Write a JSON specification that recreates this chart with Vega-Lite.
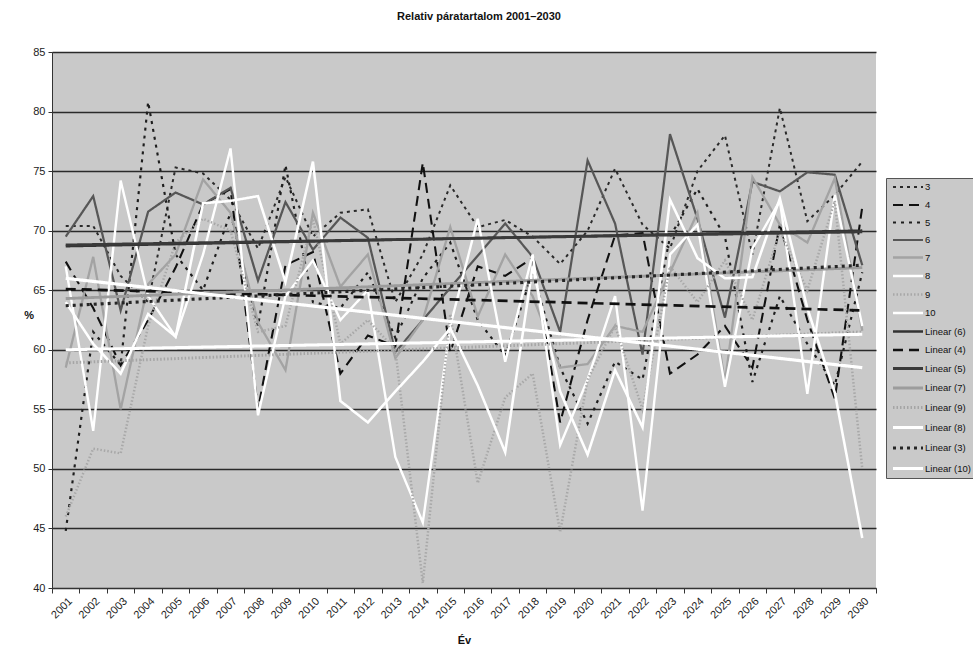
{
  "$schema": "https://vega.github.io/schema/vega-lite/v6.json",
  "autosize": {"type": "none"},
  "padding": {"left": 52, "top": 52, "right": 97, "bottom": 68},
  "width": 824,
  "height": 536,
  "background": "#ffffff",
  "config": {
    "font": "Liberation Sans, Arial",
    "view": {"fill": "#c9c9c9", "stroke": null}
  },
  "title": {
    "text": "Relativ páratartalom 2001–2030",
    "fontSize": 11,
    "fontWeight": "bold",
    "color": "#111",
    "anchor": "middle",
    "dx": 15,
    "offset": 24
  },
  "data": {
    "values": [
      {"series": "3", "year": 2001, "value": 70.4}, {"series": "3", "year": 2002, "value": 70.4}, {"series": "3", "year": 2003, "value": 66.2}, {"series": "3", "year": 2004, "value": 64.0}, {"series": "3", "year": 2005, "value": 75.3}, {"series": "3", "year": 2006, "value": 74.8}, {"series": "3", "year": 2007, "value": 72.6}, {"series": "3", "year": 2008, "value": 68.5}, {"series": "3", "year": 2009, "value": 74.5}, {"series": "3", "year": 2010, "value": 69.5}, {"series": "3", "year": 2011, "value": 71.5}, {"series": "3", "year": 2012, "value": 71.8}, {"series": "3", "year": 2013, "value": 64.0}, {"series": "3", "year": 2014, "value": 68.0}, {"series": "3", "year": 2015, "value": 73.8}, {"series": "3", "year": 2016, "value": 70.3}, {"series": "3", "year": 2017, "value": 70.9}, {"series": "3", "year": 2018, "value": 69.5}, {"series": "3", "year": 2019, "value": 67.2}, {"series": "3", "year": 2020, "value": 70.0}, {"series": "3", "year": 2021, "value": 75.2}, {"series": "3", "year": 2022, "value": 70.5}, {"series": "3", "year": 2023, "value": 68.5}, {"series": "3", "year": 2024, "value": 75.0}, {"series": "3", "year": 2025, "value": 78.0}, {"series": "3", "year": 2026, "value": 68.0}, {"series": "3", "year": 2027, "value": 80.3}, {"series": "3", "year": 2028, "value": 70.8}, {"series": "3", "year": 2029, "value": 73.0}, {"series": "3", "year": 2030, "value": 75.8},

      {"series": "4", "year": 2001, "value": 67.4}, {"series": "4", "year": 2002, "value": 63.5}, {"series": "4", "year": 2003, "value": 58.7}, {"series": "4", "year": 2004, "value": 62.5}, {"series": "4", "year": 2005, "value": 66.9}, {"series": "4", "year": 2006, "value": 72.2}, {"series": "4", "year": 2007, "value": 73.5}, {"series": "4", "year": 2008, "value": 55.0}, {"series": "4", "year": 2009, "value": 67.1}, {"series": "4", "year": 2010, "value": 68.2}, {"series": "4", "year": 2011, "value": 58.0}, {"series": "4", "year": 2012, "value": 61.2}, {"series": "4", "year": 2013, "value": 60.3}, {"series": "4", "year": 2014, "value": 75.7}, {"series": "4", "year": 2015, "value": 59.8}, {"series": "4", "year": 2016, "value": 67.0}, {"series": "4", "year": 2017, "value": 66.2}, {"series": "4", "year": 2018, "value": 67.7}, {"series": "4", "year": 2019, "value": 53.9}, {"series": "4", "year": 2020, "value": 62.5}, {"series": "4", "year": 2021, "value": 69.6}, {"series": "4", "year": 2022, "value": 69.8}, {"series": "4", "year": 2023, "value": 58.0}, {"series": "4", "year": 2024, "value": 59.6}, {"series": "4", "year": 2025, "value": 62.0}, {"series": "4", "year": 2026, "value": 58.5}, {"series": "4", "year": 2027, "value": 70.5}, {"series": "4", "year": 2028, "value": 62.5}, {"series": "4", "year": 2029, "value": 55.9}, {"series": "4", "year": 2030, "value": 72.0},

      {"series": "5", "year": 2001, "value": 44.8}, {"series": "5", "year": 2002, "value": 61.5}, {"series": "5", "year": 2003, "value": 58.7}, {"series": "5", "year": 2004, "value": 80.8}, {"series": "5", "year": 2005, "value": 68.0}, {"series": "5", "year": 2006, "value": 65.0}, {"series": "5", "year": 2007, "value": 71.5}, {"series": "5", "year": 2008, "value": 62.0}, {"series": "5", "year": 2009, "value": 75.5}, {"series": "5", "year": 2010, "value": 64.0}, {"series": "5", "year": 2011, "value": 63.5}, {"series": "5", "year": 2012, "value": 66.5}, {"series": "5", "year": 2013, "value": 61.0}, {"series": "5", "year": 2014, "value": 66.0}, {"series": "5", "year": 2015, "value": 69.0}, {"series": "5", "year": 2016, "value": 62.5}, {"series": "5", "year": 2017, "value": 59.5}, {"series": "5", "year": 2018, "value": 66.5}, {"series": "5", "year": 2019, "value": 58.5}, {"series": "5", "year": 2020, "value": 53.8}, {"series": "5", "year": 2021, "value": 59.0}, {"series": "5", "year": 2022, "value": 57.5}, {"series": "5", "year": 2023, "value": 69.5}, {"series": "5", "year": 2024, "value": 73.5}, {"series": "5", "year": 2025, "value": 69.5}, {"series": "5", "year": 2026, "value": 57.3}, {"series": "5", "year": 2027, "value": 64.5}, {"series": "5", "year": 2028, "value": 60.5}, {"series": "5", "year": 2029, "value": 57.0}, {"series": "5", "year": 2030, "value": 66.5},

      {"series": "6", "year": 2001, "value": 69.5}, {"series": "6", "year": 2002, "value": 72.9}, {"series": "6", "year": 2003, "value": 63.3}, {"series": "6", "year": 2004, "value": 71.6}, {"series": "6", "year": 2005, "value": 73.2}, {"series": "6", "year": 2006, "value": 72.2}, {"series": "6", "year": 2007, "value": 73.6}, {"series": "6", "year": 2008, "value": 65.8}, {"series": "6", "year": 2009, "value": 72.4}, {"series": "6", "year": 2010, "value": 68.4}, {"series": "6", "year": 2011, "value": 71.1}, {"series": "6", "year": 2012, "value": 69.4}, {"series": "6", "year": 2013, "value": 59.8}, {"series": "6", "year": 2014, "value": 62.5}, {"series": "6", "year": 2015, "value": 65.2}, {"series": "6", "year": 2016, "value": 67.9}, {"series": "6", "year": 2017, "value": 70.6}, {"series": "6", "year": 2018, "value": 67.8}, {"series": "6", "year": 2019, "value": 61.5}, {"series": "6", "year": 2020, "value": 75.9}, {"series": "6", "year": 2021, "value": 70.6}, {"series": "6", "year": 2022, "value": 59.6}, {"series": "6", "year": 2023, "value": 78.1}, {"series": "6", "year": 2024, "value": 71.0}, {"series": "6", "year": 2025, "value": 62.7}, {"series": "6", "year": 2026, "value": 74.1}, {"series": "6", "year": 2027, "value": 73.3}, {"series": "6", "year": 2028, "value": 74.9}, {"series": "6", "year": 2029, "value": 74.7}, {"series": "6", "year": 2030, "value": 67.1},

      {"series": "7", "year": 2001, "value": 58.5}, {"series": "7", "year": 2002, "value": 67.8}, {"series": "7", "year": 2003, "value": 55.0}, {"series": "7", "year": 2004, "value": 65.5}, {"series": "7", "year": 2005, "value": 68.0}, {"series": "7", "year": 2006, "value": 74.3}, {"series": "7", "year": 2007, "value": 71.5}, {"series": "7", "year": 2008, "value": 62.3}, {"series": "7", "year": 2009, "value": 58.3}, {"series": "7", "year": 2010, "value": 71.5}, {"series": "7", "year": 2011, "value": 65.3}, {"series": "7", "year": 2012, "value": 68.0}, {"series": "7", "year": 2013, "value": 59.3}, {"series": "7", "year": 2014, "value": 62.5}, {"series": "7", "year": 2015, "value": 70.3}, {"series": "7", "year": 2016, "value": 62.8}, {"series": "7", "year": 2017, "value": 68.0}, {"series": "7", "year": 2018, "value": 64.5}, {"series": "7", "year": 2019, "value": 58.5}, {"series": "7", "year": 2020, "value": 58.8}, {"series": "7", "year": 2021, "value": 62.0}, {"series": "7", "year": 2022, "value": 61.5}, {"series": "7", "year": 2023, "value": 66.5}, {"series": "7", "year": 2024, "value": 71.5}, {"series": "7", "year": 2025, "value": 57.3}, {"series": "7", "year": 2026, "value": 74.5}, {"series": "7", "year": 2027, "value": 70.5}, {"series": "7", "year": 2028, "value": 69.0}, {"series": "7", "year": 2029, "value": 74.4}, {"series": "7", "year": 2030, "value": 61.6},

      {"series": "8", "year": 2001, "value": 67.0}, {"series": "8", "year": 2002, "value": 53.2}, {"series": "8", "year": 2003, "value": 74.2}, {"series": "8", "year": 2004, "value": 64.5}, {"series": "8", "year": 2005, "value": 61.1}, {"series": "8", "year": 2006, "value": 68.0}, {"series": "8", "year": 2007, "value": 76.9}, {"series": "8", "year": 2008, "value": 54.5}, {"series": "8", "year": 2009, "value": 64.5}, {"series": "8", "year": 2010, "value": 67.5}, {"series": "8", "year": 2011, "value": 62.5}, {"series": "8", "year": 2012, "value": 65.0}, {"series": "8", "year": 2013, "value": 51.0}, {"series": "8", "year": 2014, "value": 45.5}, {"series": "8", "year": 2015, "value": 62.0}, {"series": "8", "year": 2016, "value": 71.0}, {"series": "8", "year": 2017, "value": 59.0}, {"series": "8", "year": 2018, "value": 68.0}, {"series": "8", "year": 2019, "value": 52.0}, {"series": "8", "year": 2020, "value": 57.5}, {"series": "8", "year": 2021, "value": 64.5}, {"series": "8", "year": 2022, "value": 46.5}, {"series": "8", "year": 2023, "value": 68.0}, {"series": "8", "year": 2024, "value": 70.5}, {"series": "8", "year": 2025, "value": 56.9}, {"series": "8", "year": 2026, "value": 68.5}, {"series": "8", "year": 2027, "value": 72.5}, {"series": "8", "year": 2028, "value": 56.3}, {"series": "8", "year": 2029, "value": 73.0}, {"series": "8", "year": 2030, "value": 62.0},

      {"series": "9", "year": 2001, "value": 46.0}, {"series": "9", "year": 2002, "value": 51.7}, {"series": "9", "year": 2003, "value": 51.3}, {"series": "9", "year": 2004, "value": 62.0}, {"series": "9", "year": 2005, "value": 69.0}, {"series": "9", "year": 2006, "value": 71.0}, {"series": "9", "year": 2007, "value": 70.0}, {"series": "9", "year": 2008, "value": 61.5}, {"series": "9", "year": 2009, "value": 62.0}, {"series": "9", "year": 2010, "value": 71.0}, {"series": "9", "year": 2011, "value": 60.5}, {"series": "9", "year": 2012, "value": 62.5}, {"series": "9", "year": 2013, "value": 60.0}, {"series": "9", "year": 2014, "value": 40.4}, {"series": "9", "year": 2015, "value": 63.0}, {"series": "9", "year": 2016, "value": 48.8}, {"series": "9", "year": 2017, "value": 56.0}, {"series": "9", "year": 2018, "value": 58.0}, {"series": "9", "year": 2019, "value": 44.7}, {"series": "9", "year": 2020, "value": 57.5}, {"series": "9", "year": 2021, "value": 62.0}, {"series": "9", "year": 2022, "value": 55.0}, {"series": "9", "year": 2023, "value": 67.0}, {"series": "9", "year": 2024, "value": 64.0}, {"series": "9", "year": 2025, "value": 67.5}, {"series": "9", "year": 2026, "value": 62.5}, {"series": "9", "year": 2027, "value": 70.0}, {"series": "9", "year": 2028, "value": 65.0}, {"series": "9", "year": 2029, "value": 72.5}, {"series": "9", "year": 2030, "value": 50.0},

      {"series": "10", "year": 2001, "value": 64.0}, {"series": "10", "year": 2002, "value": 60.5}, {"series": "10", "year": 2003, "value": 58.0}, {"series": "10", "year": 2004, "value": 63.0}, {"series": "10", "year": 2005, "value": 61.1}, {"series": "10", "year": 2006, "value": 72.3}, {"series": "10", "year": 2007, "value": 72.5}, {"series": "10", "year": 2008, "value": 72.9}, {"series": "10", "year": 2009, "value": 65.7}, {"series": "10", "year": 2010, "value": 75.8}, {"series": "10", "year": 2011, "value": 55.7}, {"series": "10", "year": 2012, "value": 53.9}, {"series": "10", "year": 2013, "value": 56.5}, {"series": "10", "year": 2014, "value": 59.0}, {"series": "10", "year": 2015, "value": 61.8}, {"series": "10", "year": 2016, "value": 57.0}, {"series": "10", "year": 2017, "value": 51.4}, {"series": "10", "year": 2018, "value": 67.0}, {"series": "10", "year": 2019, "value": 56.5}, {"series": "10", "year": 2020, "value": 51.2}, {"series": "10", "year": 2021, "value": 58.3}, {"series": "10", "year": 2022, "value": 53.5}, {"series": "10", "year": 2023, "value": 72.6}, {"series": "10", "year": 2024, "value": 67.7}, {"series": "10", "year": 2025, "value": 66.0}, {"series": "10", "year": 2026, "value": 66.1}, {"series": "10", "year": 2027, "value": 72.7}, {"series": "10", "year": 2028, "value": 63.5}, {"series": "10", "year": 2029, "value": 56.4}, {"series": "10", "year": 2030, "value": 44.2},

      {"series": "Linear (6)", "year": 2001, "value": 68.7}, {"series": "Linear (6)", "year": 2030, "value": 70.0},
      {"series": "Linear (4)", "year": 2001, "value": 65.1}, {"series": "Linear (4)", "year": 2030, "value": 63.3},
      {"series": "Linear (5)", "year": 2001, "value": 68.8}, {"series": "Linear (5)", "year": 2030, "value": 69.9},
      {"series": "Linear (7)", "year": 2001, "value": 64.3}, {"series": "Linear (7)", "year": 2030, "value": 66.9},
      {"series": "Linear (9)", "year": 2001, "value": 58.9}, {"series": "Linear (9)", "year": 2030, "value": 61.5},
      {"series": "Linear (8)", "year": 2001, "value": 60.0}, {"series": "Linear (8)", "year": 2030, "value": 61.3},
      {"series": "Linear (3)", "year": 2001, "value": 63.7}, {"series": "Linear (3)", "year": 2030, "value": 67.1},
      {"series": "Linear (10)", "year": 2001, "value": 66.0}, {"series": "Linear (10)", "year": 2030, "value": 58.5}
    ]
  },
  "mark": {"type": "line", "clip": true},
  "encoding": {
    "x": {
      "field": "year",
      "type": "quantitative",
      "scale": {"domain": [2000.5, 2030.5], "nice": false, "zero": false},
      "axis": {
        "title": "Év",
        "titleFontSize": 11,
        "titleFontWeight": "bold",
        "titleColor": "#111",
        "titlePadding": 14,
        "values": [2000.5, 2001.5, 2002.5, 2003.5, 2004.5, 2005.5, 2006.5, 2007.5, 2008.5, 2009.5, 2010.5, 2011.5, 2012.5, 2013.5, 2014.5, 2015.5, 2016.5, 2017.5, 2018.5, 2019.5, 2020.5, 2021.5, 2022.5, 2023.5, 2024.5, 2025.5, 2026.5, 2027.5, 2028.5, 2029.5, 2030.5],
        "labelExpr": "datum.value < 2030 ? format(datum.value + 0.5, 'd') : ''",
        "labelOffset": 14,
        "labelAngle": -45,
        "labelFontSize": 11,
        "labelColor": "#222",
        "labelPadding": 2,
        "grid": false,
        "domainColor": "#333",
        "tickColor": "#333",
        "tickSize": 5,
        "labelFlush": false,
        "labelOverlap": false,
        "labelBound": false
      }
    },
    "y": {
      "field": "value",
      "type": "quantitative",
      "scale": {"domain": [40, 85], "nice": false, "zero": false},
      "axis": {
        "title": "%",
        "titleAngle": 0,
        "titleFontSize": 11,
        "titleFontWeight": "bold",
        "titleColor": "#111",
        "titlePadding": 4,
        "values": [40, 45, 50, 55, 60, 65, 70, 75, 80, 85],
        "labelFontSize": 11,
        "labelColor": "#222",
        "labelPadding": 3,
        "grid": true,
        "gridColor": "#2a2a2a",
        "gridWidth": 1.3,
        "domainColor": "#333",
        "tickColor": "#333",
        "tickSize": 4
      }
    },
    "color": {
      "field": "series",
      "type": "nominal",
      "scale": {
        "domain": ["3", "4", "5", "6", "7", "8", "9", "10", "Linear (6)", "Linear (4)", "Linear (5)", "Linear (7)", "Linear (9)", "Linear (8)", "Linear (3)", "Linear (10)"],
        "range": ["#2a2a2a", "#111111", "#1e1e1e", "#575757", "#a3a3a3", "#ffffff", "#a8a8a8", "#ffffff", "#333333", "#111111", "#3a3a3a", "#9c9c9c", "#a5a5a5", "#ffffff", "#262626", "#ffffff"]
      },
      "legend": {
        "title": null,
        "orient": "none",
        "legendX": 834,
        "legendY": 126,
        "fillColor": "#c9c9c9",
        "strokeColor": "#555555",
        "padding": 3,
        "labelFontSize": 9.5,
        "labelColor": "#111",
        "symbolType": "M-3,0H3",
        "symbolSize": 100,
        "symbolOffset": 12,
        "rowPadding": 6.5,
        "labelOffset": 10
      }
    },
    "strokeDash": {
      "field": "series",
      "type": "nominal",
      "scale": {
        "domain": ["3", "4", "5", "6", "7", "8", "9", "10", "Linear (6)", "Linear (4)", "Linear (5)", "Linear (7)", "Linear (9)", "Linear (8)", "Linear (3)", "Linear (10)"],
        "range": [[3, 4], [10, 6], [3, 5], [1, 0], [1, 0], [1, 0], [1.5, 2], [1, 0], [1, 0], [10, 6], [1, 0], [1, 0], [1.5, 2], [1, 0], [3, 4], [1, 0]]
      },
      "legend": null
    },
    "strokeWidth": {
      "field": "series",
      "type": "nominal",
      "scale": {
        "domain": ["3", "4", "5", "6", "7", "8", "9", "10", "Linear (6)", "Linear (4)", "Linear (5)", "Linear (7)", "Linear (9)", "Linear (8)", "Linear (3)", "Linear (10)"],
        "range": [2, 3.2, 3, 1.4, 1.3, 1.6, 1.3, 3.5, 2.2, 3.2, 2.2, 2.6, 1.6, 2.5, 2.6, 4]
      },
      "legend": null
    }
  }
}
